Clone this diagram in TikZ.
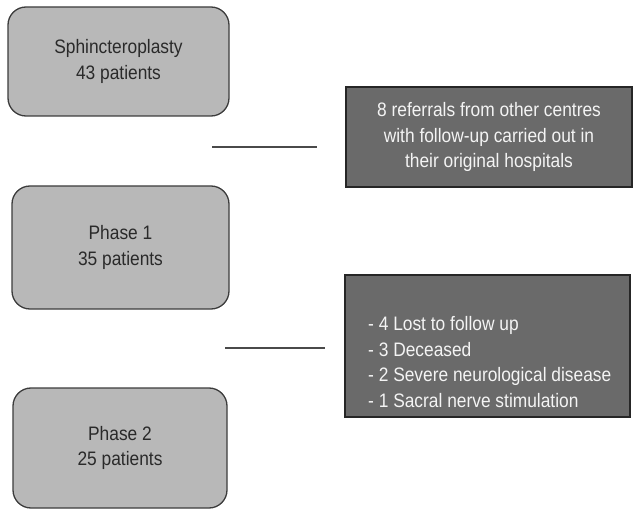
\documentclass[tikz,border=0pt]{standalone}
\usepackage{fontspec}
\setmainfont{Liberation Sans}[FakeStretch=0.89]
\definecolor{lightfill}{HTML}{B8B8B8}
\definecolor{darkfill}{HTML}{6A6A6A}
\definecolor{lightedge}{HTML}{3C3C3C}
\definecolor{darkedge}{HTML}{262626}
\definecolor{linkgray}{HTML}{4A4A4A}
\definecolor{lighttext}{HTML}{2A2A2A}
\definecolor{darktext}{HTML}{F4F4F4}
\begin{document}
\begin{tikzpicture}[x=1pt,y=-1pt,
  phasebox/.style={draw=lightedge, line width=1.3pt, fill=lightfill, rounded corners=18pt,
    inner sep=0pt, align=center, text=lighttext,
    font=\fontsize{19.5}{25.5}\selectfont},
  notebox/.style={draw=darkedge, line width=1.6pt, fill=darkfill, inner sep=0pt,
    align=center, text=darktext, font=\fontsize{19.5}{25.5}\selectfont},
  notetext/.style={inner sep=0pt, align=left, text=darktext,
    font=\fontsize{19.5}{25.5}\selectfont},
  link/.style={draw=linkgray, line width=1.8pt}]
\useasboundingbox (0,0) rectangle (633,511);
\node[phasebox, minimum width=221pt, minimum height=109pt] (b1) at (118.5,61.5)
  {Sphincteroplasty\\43 patients};
\node[phasebox, minimum width=217pt, minimum height=123pt] (b2) at (120.5,247.5)
  {Phase 1\\35 patients};
\node[phasebox, minimum width=214pt, minimum height=120pt] (b3) at (120,448)
  {Phase 2\\25 patients};
\node[notebox, minimum width=286pt, minimum height=100pt] (d1) at (489,137)
  {8 referrals from other centres\\with follow-up carried out in\\their original hospitals};
\node[notebox, minimum width=285pt, minimum height=142pt] (d2) at (487.5,346) {};
\node[notetext, anchor=west] (d2t) at (368,362)
  {- 4 Lost to follow up\\- 3 Deceased\\- 2 Severe neurological disease\\- 1 Sacral nerve stimulation};
\coordinate (l1a) at (212,147);
\coordinate (l1b) at (317,147);
\coordinate (l2a) at (225,348);
\coordinate (l2b) at (325,348);
\draw[link] (l1a) -- (l1b);
\draw[link] (l2a) -- (l2b);
\end{tikzpicture}
\end{document}
